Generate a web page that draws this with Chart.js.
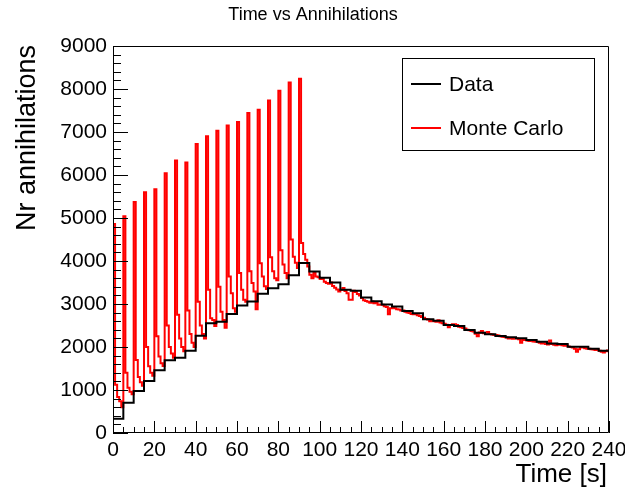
<!DOCTYPE html>
<html>
<head>
<meta charset="utf-8">
<script src="https://cdn.jsdelivr.net/npm/chart.js@4"></script>
<style>
  html, body { margin: 0; padding: 0; background: #fff; }
  #wrap { width: 625px; height: 490px; }
</style>
</head>
<body>
<div id="wrap"><canvas id="chart" width="625" height="490"></canvas></div>
<script>
// measured counts, 5 s bins (0..240 s)
const dataCounts = [
  331, 705, 977, 1210, 1460, 1694, 1748, 1911, 2260, 2551,
  2585, 2769, 2963, 3056, 3240, 3365, 3458, 3670, 3953, 3757,
  3610, 3500, 3330, 3310, 3150, 3065, 2990, 2940, 2840, 2785,
  2645, 2612, 2512, 2488, 2395, 2332, 2294, 2255, 2224, 2201,
  2161, 2122, 2084, 2068, 2005, 2005, 1958, 1911
];

// simulated counts, 1 s bins (0..240 s)
const mcCounts = [
  4860, 1120, 840, 740, 600,
  5040, 1400, 1050, 960, 900,
  5370, 1700, 1300, 1180, 1100,
  5600, 2000, 1550, 1400, 1330,
  5670, 2250, 1780, 1620, 1560,
  6040, 2500, 2000, 1850, 1750,
  6340, 2750, 2200, 2000, 1900,
  6290, 2850, 2300, 2100, 2000,
  6720, 3050, 2500, 2300, 2200,
  6900, 3330, 2670, 2630, 2490,
  7030, 3400, 2820, 2630, 2450,
  7150, 3640, 3250, 2900, 2820,
  7230, 3720, 3330, 3100, 3050,
  7440, 3760, 3490, 3290, 2880,
  7520, 3950, 3640, 3410, 3350,
  7730, 4090, 3760, 3600, 3550,
  7960, 4250, 3920, 3720, 3600,
  8150, 4500, 4100, 3960, 3840,
  8240, 4420, 4160, 4030, 3870,
  3680, 3600, 3720, 3640, 3620,
  3580, 3600, 3520, 3490, 3470,
  3500, 3420, 3380, 3340, 3290,
  3330, 3370, 3300, 3250, 3100,
  3100, 3310, 3280, 3230, 3200,
  3140, 3090, 3070, 3050, 3030,
  3060, 3020, 3040, 2980, 2990,
  2980, 2950, 2930, 2760, 2900,
  2920, 2900, 2880, 2870, 2850,
  2850, 2820, 2800, 2790, 2770,
  2760, 2770, 2740, 2720, 2700,
  2680, 2650, 2640, 2600, 2620,
  2600, 2590, 2620, 2570, 2550,
  2540, 2520, 2460, 2510, 2530,
  2530, 2510, 2470, 2460, 2440,
  2430, 2400, 2390, 2370, 2360,
  2310, 2250, 2340, 2370, 2320,
  2330, 2350, 2300, 2290, 2280,
  2280, 2270, 2250, 2240, 2230,
  2220, 2200, 2210, 2190, 2200,
  2200, 2180, 2100, 2170, 2160,
  2150, 2140, 2160, 2130, 2120,
  2120, 2100, 2080, 2090, 2070,
  2060, 2150, 2070, 2050, 2040,
  2050, 2060, 2040, 2030, 2040,
  2010, 2000, 1990, 1960, 1890,
  1950, 2000, 1990, 1970, 1960,
  1960, 1950, 1940, 1930, 1950,
  1910, 1890, 1870, 1900, 1920
];

const seriesNames = ["Data", "Monte Carlo"];
const xMin = 0, xMax = 240, xStep = 20, xMinor = 5;
const yMin = 0, yMax = 9000, yStep = 1000, yMinor = 200;

const FONT = "'Liberation Sans', Arial, Helvetica, sans-serif";

// histogram outline: one point per bin left edge + closing point
function histPoints(counts, width) {
  const pts = counts.map((v, i) => ({ x: i * width, y: v }));
  pts.push({ x: counts.length * width, y: counts[counts.length - 1] });
  return pts;
}

const rootStyle = {
  id: "rootStyle",
  afterDatasetsDraw(chart) {
    const { ctx, chartArea: a, scales } = chart;
    const xs = scales.x, ys = scales.y;
    ctx.save();
    ctx.strokeStyle = "#000";
    ctx.lineWidth = 1;
    ctx.beginPath();
    // frame
    ctx.rect(Math.round(a.left) + 0.5, Math.round(a.top) + 0.5,
             Math.round(a.right - a.left) - 1, Math.round(a.bottom - a.top) - 1);
    // x ticks (inside, from bottom)
    for (let v = xMin; v <= xMax; v += xMinor) {
      const px = Math.round(xs.getPixelForValue(v)) + 0.5;
      const len = v % xStep === 0 ? 12 : 6;
      ctx.moveTo(px, a.bottom);
      ctx.lineTo(px, a.bottom - len);
    }
    // y ticks (inside, from left)
    for (let v = yMin; v <= yMax; v += yMinor) {
      const py = Math.round(ys.getPixelForValue(v)) + 0.5;
      const len = v % yStep === 0 ? 15 : 8;
      ctx.moveTo(a.left, py);
      ctx.lineTo(a.left + len, py);
    }
    ctx.stroke();
    ctx.restore();
  },
  afterDraw(chart) {
    const { ctx } = chart;
    ctx.save();
    ctx.fillStyle = "#000";
    // title
    ctx.font = "18px " + FONT;
    ctx.textAlign = "center";
    ctx.textBaseline = "middle";
    ctx.fillText("Time vs Annihilations", 313, 15);
    // x title
    ctx.font = "26px " + FONT;
    ctx.textAlign = "right";
    ctx.textBaseline = "alphabetic";
    ctx.fillText("Time [s]", 607, 482);
    // y title
    ctx.save();
    ctx.translate(35, 45);
    ctx.rotate(-Math.PI / 2);
    ctx.font = "27px " + FONT;
    ctx.textAlign = "right";
    ctx.fillText("Nr annihilations", 0, 0);
    ctx.restore();
    // legend box
    ctx.fillStyle = "#fff";
    ctx.fillRect(402, 58, 192, 92);
    ctx.strokeStyle = "#000";
    ctx.lineWidth = 1;
    ctx.strokeRect(402.5, 58.5, 192, 92);
    const rows = [{ y: 84 }, { y: 128 }];
    chart.data.datasets.forEach((ds, i) => {
      const y = rows[i].y;
      ctx.strokeStyle = ds.borderColor;
      ctx.lineWidth = 2;
      ctx.beginPath();
      ctx.moveTo(411, y);
      ctx.lineTo(441, y);
      ctx.stroke();
      ctx.fillStyle = "#000";
      ctx.font = "21px " + FONT;
      ctx.textAlign = "left";
      ctx.textBaseline = "middle";
      ctx.fillText(ds.label, 449, y + 1);
    });
    ctx.restore();
  }
};

new Chart(document.getElementById("chart"), {
  type: "line",
  data: {
    datasets: [
      {
        label: seriesNames[0],
        data: histPoints(dataCounts, 5),
        borderColor: "#000000",
        borderWidth: 2,
        stepped: "before",
        pointRadius: 0,
        fill: false
      },
      {
        label: seriesNames[1],
        data: histPoints(mcCounts, 1),
        borderColor: "#ff0000",
        borderWidth: 2,
        stepped: "before",
        pointRadius: 0,
        fill: false
      }
    ]
  },
  options: {
    responsive: false,
    animation: false,
    events: [],
    layout: { padding: { top: 46, right: 16, left: 0, bottom: 0 } },
    plugins: { legend: { display: false }, title: { display: false }, tooltip: { enabled: false } },
    scales: {
      x: {
        type: "linear",
        min: xMin,
        max: xMax,
        border: { display: false },
        grid: { display: false, drawTicks: false },
        ticks: {
          stepSize: xStep,
          autoSkip: false,
          maxRotation: 0,
          padding: 5,
          color: "#000",
          font: { family: FONT, size: 21 },
          callback: (v) => String(v)
        },
        afterFit(scale) {
          scale.height = 57;
          scale.paddingLeft = 0;
          scale.paddingRight = 0;
        }
      },
      y: {
        min: yMin,
        max: yMax,
        border: { display: false },
        grid: { display: false, drawTicks: false },
        ticks: {
          stepSize: yStep,
          autoSkip: false,
          padding: 6,
          color: "#000",
          font: { family: FONT, size: 21 },
          callback: (v) => String(v)
        },
        afterFit(scale) {
          scale.width = 113;
          scale.paddingTop = 0;
          scale.paddingBottom = 0;
        }
      }
    }
  },
  plugins: [rootStyle]
});
</script>
</body>
</html>
